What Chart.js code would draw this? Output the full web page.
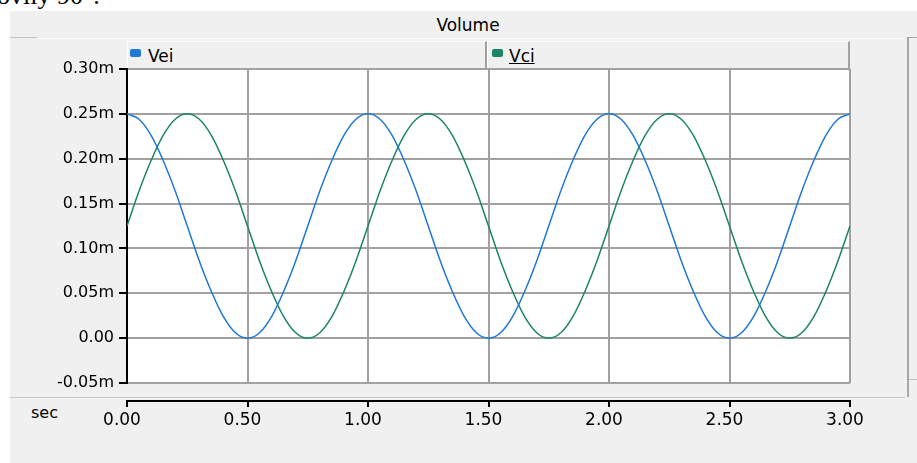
<!DOCTYPE html>
<html>
<head>
<meta charset="utf-8">
<script src="https://cdn.jsdelivr.net/npm/chart.js@4"></script>
<style>
	body { margin: 0; width: 917px; height: 463px; overflow: hidden; background: #fff; position: relative; font-family: 'DejaVu Sans', sans-serif; }
	.abs { position: absolute; }
	#above { left: -3px; top: -17px; font: 26px 'Liberation Serif', serif; line-height: 26px; color: #000; white-space: nowrap; }
	#panel { left: 10px; top: 11px; width: 907px; height: 452px; background: #f0f0f0; }
	#title { left: 368px; width: 200px; top: 15px; text-align: center; font-size: 17px; line-height: 20px; color: #000; }
	.head { top: 41px; height: 26px; background: #f0f0f0; border-top: 1px solid #fff; border-left: 1px solid #fff; border-right: 2px solid #a3a19e; border-bottom: 2px solid #a3a19e; }
	.swatch { width: 11px; height: 8px; border-radius: 2px; }
	.lbl { top: 46px; font-size: 17px; line-height: 20px; color: #000; }
	#sec { left: 31px; top: 403px; font-size: 16px; line-height: 19px; color: #000; }
	canvas { position: absolute; left: 0; top: 0; }
</style>
</head>
<body>
<div id="above" class="abs">ovily 90°.</div>
<div id="panel" class="abs"></div>
<div class="abs" style="left:10px;top:37px;width:27px;height:1px;background:#c4c4c4"></div>
<div class="abs" style="left:37px;top:38px;width:868px;height:1px;background:#fff"></div>
<div class="abs" style="left:10px;top:397px;width:895px;height:1px;background:#c8c8c8"></div>
<div class="abs" style="left:907px;top:37px;width:10px;height:359px;border-left:2px solid #a8a8a8;border-top:1px solid #a8a8a8"></div>
<div class="abs" style="left:909px;top:379px;width:8px;height:1px;background:#c0c0c0"></div>
<div id="title" class="abs">Volume</div>
<div class="abs head" style="left:127px;width:357px"></div>
<div class="abs head" style="left:487px;width:360px"></div>
<div class="abs swatch" id="sw0" style="left:130px;top:49px"></div>
<div class="abs lbl" style="left:148px">Vei</div>
<div class="abs swatch" id="sw1" style="left:492px;top:49px"></div>
<div class="abs lbl" style="left:509px;text-decoration:underline">Vci</div>
<div id="sec" class="abs">sec</div>
<canvas id="chart" width="917" height="463"></canvas>
<script>
const seriesNames = ['Vei', 'Vci'];
const seriesColors = ['#1f77d6', '#1b8467'];

// time, sec
const seconds = [
	0.00, 0.05, 0.10, 0.15, 0.20, 0.25, 0.30, 0.35, 0.40, 0.45,
	0.50, 0.55, 0.60, 0.65, 0.70, 0.75, 0.80, 0.85, 0.90, 0.95,
	1.00, 1.05, 1.10, 1.15, 1.20, 1.25, 1.30, 1.35, 1.40, 1.45,
	1.50, 1.55, 1.60, 1.65, 1.70, 1.75, 1.80, 1.85, 1.90, 1.95,
	2.00, 2.05, 2.10, 2.15, 2.20, 2.25, 2.30, 2.35, 2.40, 2.45,
	2.50, 2.55, 2.60, 2.65, 2.70, 2.75, 2.80, 2.85, 2.90, 2.95,
	3.00
];

// volume, m (milli-units)
const vei = [
	0.250, 0.244, 0.226, 0.198, 0.164, 0.125, 0.086, 0.052, 0.024, 0.006,
	0.000, 0.006, 0.024, 0.052, 0.086, 0.125, 0.164, 0.198, 0.226, 0.244,
	0.250, 0.244, 0.226, 0.198, 0.164, 0.125, 0.086, 0.052, 0.024, 0.006,
	0.000, 0.006, 0.024, 0.052, 0.086, 0.125, 0.164, 0.198, 0.226, 0.244,
	0.250, 0.244, 0.226, 0.198, 0.164, 0.125, 0.086, 0.052, 0.024, 0.006,
	0.000, 0.006, 0.024, 0.052, 0.086, 0.125, 0.164, 0.198, 0.226, 0.244,
	0.250
];

const vci = [
	0.125, 0.164, 0.198, 0.226, 0.244, 0.250, 0.244, 0.226, 0.198, 0.164,
	0.125, 0.086, 0.052, 0.024, 0.006, 0.000, 0.006, 0.024, 0.052, 0.086,
	0.125, 0.164, 0.198, 0.226, 0.244, 0.250, 0.244, 0.226, 0.198, 0.164,
	0.125, 0.086, 0.052, 0.024, 0.006, 0.000, 0.006, 0.024, 0.052, 0.086,
	0.125, 0.164, 0.198, 0.226, 0.244, 0.250, 0.244, 0.226, 0.198, 0.164,
	0.125, 0.086, 0.052, 0.024, 0.006, 0.000, 0.006, 0.024, 0.052, 0.086,
	0.125
];

const xMin = 0, xMax = 3, xStep = 0.5;
const yMin = -0.05, yMax = 0.30, yStep = 0.05;

document.getElementById('sw0').style.background = seriesColors[0];
document.getElementById('sw1').style.background = seriesColors[1];

const gridColor = '#a3a19e';

// white plot background + separate black time axis below the plot
const chrome = {
	id: 'chrome',
	beforeDraw(chart) {
		const { ctx, chartArea: a } = chart;
		ctx.save();
		ctx.fillStyle = '#fff';
		ctx.fillRect(a.left, a.top, a.right - a.left, a.bottom - a.top);
		ctx.restore();
	},
	afterDraw(chart) {
		const { ctx, chartArea: a, scales } = chart;
		const x = scales.x;
		ctx.save();
		ctx.strokeStyle = '#000';
		ctx.lineWidth = 2;
		ctx.beginPath();
		ctx.moveTo(a.left - 1, 401);
		ctx.lineTo(a.right + 1, 401);
		x.ticks.forEach(t => {
			const px = Math.round(x.getPixelForValue(t.value));
			ctx.moveTo(px, 400);
			ctx.lineTo(px, 407);
		});
		ctx.stroke();
		ctx.restore();
	}
};

new Chart(document.getElementById('chart'), {
	type: 'line',
	data: {
		datasets: [
			{
				label: seriesNames[0],
				data: seconds.map((s, i) => ({ x: s, y: vei[i] })),
				borderColor: seriesColors[0],
				borderWidth: 1.5,
				pointRadius: 0,
				cubicInterpolationMode: 'monotone'
			},
			{
				label: seriesNames[1],
				data: seconds.map((s, i) => ({ x: s, y: vci[i] })),
				borderColor: seriesColors[1],
				borderWidth: 1.5,
				pointRadius: 0,
				cubicInterpolationMode: 'monotone'
			}
		]
	},
	options: {
		responsive: false,
		animation: false,
		devicePixelRatio: 1,
		layout: { padding: { top: 69, right: 67, left: 0, bottom: 0 } },
		plugins: {
			legend: { display: false },
			title: { display: false },
			tooltip: { enabled: false }
		},
		scales: {
			x: {
				type: 'linear',
				min: xMin,
				max: xMax,
				afterFit(s) { s.height = 80; },
				border: { display: false },
				grid: { color: gridColor, lineWidth: 2, drawTicks: false },
				ticks: {
					stepSize: xStep,
					padding: 27,
					labelOffset: -5,
					color: '#000',
					font: { family: 'DejaVu Sans', size: 17 },
					callback: v => v.toFixed(2)
				}
			},
			y: {
				min: yMin,
				max: yMax,
				afterFit(s) { s.width = 127; },
				border: { color: '#000', width: 2 },
				grid: { color: gridColor, lineWidth: 2, tickColor: '#000', tickLength: 8, tickWidth: 2 },
				ticks: {
					stepSize: yStep,
					padding: 5,
					color: '#000',
					font: { family: 'DejaVu Sans', size: 16 },
					callback: v => Math.abs(v) < 1e-9 ? '0.00' : v.toFixed(2) + 'm'
				}
			}
		}
	},
	plugins: [chrome]
});
</script>
</body>
</html>
